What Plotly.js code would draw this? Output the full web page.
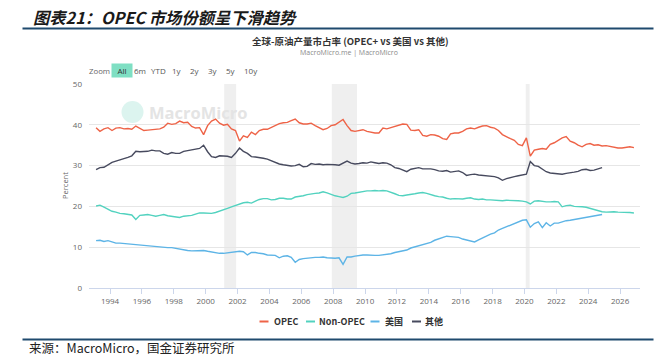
<!DOCTYPE html>
<html>
<head>
<meta charset="utf-8">
<script src="https://cdn.plot.ly/plotly-3.0.1.min.js"></script>
<style>
html,body{margin:0;padding:0;background:#ffffff;}
#chart{width:656px;height:358px;}
</style>
</head>
<body>
<div id="chart"></div>
<script>
// ---------------- DATA (quarterly) ----------------
const seriesNames = ['OPEC', 'Non-OPEC', '美国', '其他'];
const firstYear = 1993;

// OPEC share (%), 1993Q1 – 2026Q4
const opec = [
  39.3, 38.4, 39.0, 39.3,  38.6, 39.2, 39.3, 39.0,  39.1, 38.9, 39.7, 39.1,  38.6, 38.7, 38.8, 39.0,
  39.0, 39.4, 40.4, 40.1,  40.3, 40.9, 40.5, 40.6,  39.6, 39.2, 39.3, 37.6,  39.8, 40.9, 41.4, 40.4,
  39.9, 40.1, 39.0, 38.6,  36.0, 37.3, 36.9, 38.2,  37.6, 38.6, 38.9, 38.9,  39.4, 39.8, 40.3, 40.5,
  40.6, 41.0, 41.4, 40.5,  40.2, 40.2, 40.4, 39.8,  39.2, 38.8, 39.1, 39.8,  40.0, 40.6, 41.3, 39.8,
  38.6, 38.4, 38.6, 38.8,  38.4, 38.2, 38.0, 38.0,  39.2, 39.0, 39.3, 39.6,  40.0, 40.2, 40.1, 38.7,
  38.6, 38.8, 37.4, 37.2,  37.6, 37.5, 37.2, 36.6,  36.4, 37.8, 38.0, 38.0,  38.4, 39.0, 39.2, 39.0,
  39.4, 39.7, 39.8, 39.4,  39.2, 38.6, 37.6, 37.0,  36.6, 36.2, 35.2, 34.9,  36.8, 32.3, 33.8, 34.0,
  34.2, 34.0, 35.2, 35.6,  36.2, 36.8, 37.1, 36.0,  35.6, 35.0, 34.6, 35.2,  35.4, 35.0, 35.1, 34.8,
  34.9, 34.7, 34.4, 34.3,  34.3, 34.5, 34.6, 34.4
];
// Non-OPEC share (%), 1993Q1 – 2026Q4
const nonOpec = [
  20.1, 20.3, 19.8, 19.3,  18.8, 18.6, 18.3, 18.2,  18.0, 17.9, 16.8, 17.8,  17.9, 18.0, 17.8, 17.6,
  17.8, 18.0, 17.7, 17.6,  17.4, 17.3, 17.6, 17.7,  17.8, 18.1, 18.4, 18.4,  18.4, 18.3, 18.5, 18.8,
  19.1, 19.5, 19.9, 20.3,  20.6, 20.9, 21.0, 20.8,  21.3, 21.7, 21.9, 21.9,  21.6, 21.7, 22.0, 22.0,
  21.8, 21.8, 22.3, 22.4,  22.6, 22.9, 23.1, 23.2,  23.3, 23.6, 23.3, 22.9,  22.6, 22.4, 22.2, 22.5,
  23.2, 23.3, 23.5, 23.7,  23.8, 23.8, 23.9, 23.8,  23.9, 23.8, 23.5, 23.1,  22.7, 22.6, 22.8, 22.9,
  23.1, 23.3, 23.4, 23.2,  22.8, 22.6, 22.4, 22.3,  22.0, 21.8, 21.9, 21.9,  21.8, 22.0, 22.1, 21.8,
  21.7, 21.8, 21.6, 21.6,  21.5, 21.4, 21.4, 21.5,  21.5, 21.5, 21.4, 21.3,  21.1, 20.6, 21.3, 21.4,
  21.2, 21.1, 21.1, 21.2,  21.1, 19.9, 20.2, 20.3,  20.0, 20.0, 19.9, 19.8,  19.5, 19.2, 19.0, 18.7,
  18.6, 18.7, 18.7, 18.6,  18.6, 18.6, 18.5, 18.4
];
// United States share (%), 1993Q1 – 2024Q4
const usa = [
  11.6, 11.7, 11.4, 11.6,  11.3, 11.0, 11.0, 10.9,  10.9, 10.8, 10.7, 10.5,  10.5, 10.4, 10.3, 10.2,
  10.1, 10.0,  9.9,  9.9,   9.7,  9.5,  9.3,  9.2,   9.1,  9.1,  9.2,  9.2,   9.0,  8.8,  8.6,  8.5,
   8.5,  8.6,  8.8,  8.9,   9.0,  8.9,  8.1,  8.7,   8.7,  8.5,  8.4,  8.1,   8.0,  8.0,  7.4,  7.8,
   7.9,  7.5,  6.3,  7.0,   7.2,  7.3,  7.5,  7.5,   7.5,  7.6,  7.4,  7.3,   7.3,  7.4,  5.8,  7.6,
   7.6,  7.8,  8.0,  8.1,   8.1,  8.0,  8.0,  8.0,   8.1,  8.3,  8.4,  8.7,   8.9,  9.1,  9.3,  9.8,
  10.1, 10.4, 10.7, 11.0,  11.2, 11.7, 12.0, 12.4,  12.7, 12.6, 12.5, 12.4,  12.0, 11.8, 11.5, 11.3,
  11.8, 12.3, 12.7, 13.2,  13.5, 14.2, 14.6, 15.0,  15.4, 15.8, 16.3, 16.6,  16.7, 14.9, 15.8, 16.2,
  14.8, 16.0, 15.2, 15.9,  15.9, 16.2, 16.5, 16.6,  16.8, 16.9, 17.1, 17.3,  17.4, 17.6, 17.8, 18.0
];
// Others share (%), 1993Q1 – 2024Q4
const others = [
  29.0, 29.5, 29.6, 30.3,  30.8, 31.1, 31.4, 31.6,  32.0, 32.4, 33.5, 33.4,  33.4, 33.5, 33.8, 33.6,
  33.6, 33.0, 32.8, 33.2,  33.0, 33.0, 33.5, 33.7,  33.9, 34.0, 34.2, 35.0,  33.4, 32.2, 32.0, 32.4,
  32.4, 32.3, 32.0, 33.0,  34.3, 33.5, 33.0, 32.2,  32.1, 32.0, 31.8, 31.6,  31.2, 30.7, 30.4, 30.2,
  30.1, 29.9, 30.0, 30.3,  29.7, 29.8, 30.5, 30.3,  30.4, 30.2, 30.3, 30.3,  30.2, 30.1, 30.6, 31.1,
  30.6, 30.4, 30.5, 30.7,  30.6, 30.9, 30.7, 30.5,  30.7, 30.6, 30.2, 29.5,  29.3, 28.9, 28.5, 29.1,
  29.4, 29.5, 29.2, 29.2,  29.2, 29.0, 28.7, 28.6,  28.8, 28.4, 28.6, 28.7,  28.3, 27.6, 27.8, 27.9,
  27.7, 27.6, 27.6, 27.5,  27.3, 27.0, 26.4, 26.8,  27.1, 27.3, 27.5, 27.7,  27.9, 31.0, 30.0, 29.8,
  29.2, 28.5, 28.2, 28.1,  28.0, 27.9, 28.1, 28.2,  28.4, 28.6, 29.0, 29.1,  28.8, 28.9, 29.2, 29.5
];

// US recessions (shaded bands)
const recessionStart = ['2001-03-01', '2007-12-01', '2020-02-01'];
const recessionEnd   = ['2001-11-30', '2009-06-30', '2020-04-30'];

const yTicks = [0, 10, 20, 30, 40, 50];
const rangeButtons = ['All', '6m', 'YTD', '1y', '2y', '3y', '5y', '10y'];

const seriesColors = ['#ee6347', '#52d2bf', '#5db4e6', '#474a5e'];

// ---------------- helpers ----------------
function quarterDates(n) {
  const months = ['02', '05', '08', '11'];
  const out = [];
  for (let i = 0; i < n; i++) {
    out.push((firstYear + Math.floor(i / 4)) + '-' + months[i % 4] + '-15');
  }
  return out;
}
// layout geometry (pixels -> paper)
const W = 656, H = 358, L = 89, R = 16, T = 84, B = 70;
const PW = W - L - R, PH = H - T - B;
const px = x => (x - L) / PW;
const py = y => (H - B - y) / PH;

const FONT = '"Open Sans", "Noto Sans CJK SC", "DejaVu Sans", sans-serif';
const CJK = '"Noto Sans CJK SC", "Open Sans", sans-serif';

const allSeries = [opec, nonOpec, usa, others];
const traces = allSeries.map((vals, i) => ({
  type: 'scatter',
  mode: 'lines',
  name: seriesNames[i],
  x: quarterDates(vals.length),
  y: vals,
  line: { color: seriesColors[i], width: 1.4 },
  hoverinfo: 'skip',
  showlegend: false
}));

const shapes = [];
for (let i = 0; i < recessionStart.length; i++) {
  shapes.push({
    type: 'rect', xref: 'x', yref: 'paper',
    x0: recessionStart[i], x1: recessionEnd[i], y0: 0, y1: 1,
    fillcolor: '#efefef', line: { width: 0 }, layer: 'below'
  });
}
// watermark logo circle
shapes.push({ type: 'circle', xref: 'paper', yref: 'paper', x0: px(121.5), x1: px(143.5), y0: py(123), y1: py(101),
  fillcolor: '#dcf4ef', line: { width: 0 }, layer: 'below' });

const annotations = [];
// header/footer rules (thin filled bars)
[28, 339.5].forEach(yy => {
  annotations.push({ xref: 'paper', yref: 'paper', x: px(22), y: py(yy), xanchor: 'left', yanchor: 'middle',
    text: ' ', showarrow: false, width: 630, height: 1, borderpad: 0, bgcolor: '#1f4a6e',
    font: { size: 1, color: '#1f4a6e' } });
});
// header
annotations.push({ xref: 'paper', yref: 'paper', x: px(31), y: py(16.5), xanchor: 'left', yanchor: 'middle',
  text: '<b><i>图表21：OPEC 市场份额呈下滑趋势</i></b>', showarrow: false,
  font: { family: CJK, size: 16.3, color: '#1a1a1a' } });
// chart title & subtitle
annotations.push({ xref: 'paper', yref: 'paper', x: px(350), y: py(40.5), xanchor: 'center', yanchor: 'middle',
  text: '<b>全球-原油产量市占率 (OPEC+ vs 美国 vs 其他)</b>', showarrow: false,
  font: { family: CJK, size: 9.5, color: '#333333' } });
annotations.push({ xref: 'paper', yref: 'paper', x: px(349), y: py(52.5), xanchor: 'center', yanchor: 'middle',
  text: 'MacroMicro.me | MacroMicro', showarrow: false,
  font: { family: FONT, size: 7, color: '#8a8a8a' } });
// range selector
annotations.push({ xref: 'paper', yref: 'paper', x: px(87), y: py(70.5), xanchor: 'left', yanchor: 'middle',
  text: 'Zoom', showarrow: false, font: { family: FONT, size: 7.8, color: '#666666' } });
const btnX = [121.5, 139.5, 158, 176.5, 194.5, 213, 231, 250.5];
rangeButtons.forEach((b, i) => {
  const a = { xref: 'paper', yref: 'paper', x: px(btnX[i]), y: py(70.5), xanchor: 'center', yanchor: 'middle',
    text: b, showarrow: false, font: { family: FONT, size: 8, color: '#555555' } };
  if (i === 0) { a.bgcolor = '#7fdfc3'; a.width = 18; a.height = 11; a.font.color = '#333333'; }
  annotations.push(a);
});
// watermark text
annotations.push({ xref: 'paper', yref: 'paper', x: px(147), y: py(112.5), xanchor: 'left', yanchor: 'middle',
  text: '<b>MacroMicro</b>', showarrow: false, font: { family: FONT, size: 16.5, color: '#e4e4e4' } });
// y axis title
annotations.push({ xref: 'paper', yref: 'paper', x: px(65), y: py(186), xanchor: 'center', yanchor: 'middle',
  text: 'Percent', textangle: -90, showarrow: false, font: { family: FONT, size: 7.5, color: '#666666' } });
// custom legend
const legLineX = [259.5, 306, 370.5, 412];
const legTextX = [272, 317, 383, 423];
seriesNames.forEach((n, i) => {
  shapes.push({ type: 'line', xref: 'paper', yref: 'paper', x0: px(legLineX[i]), x1: px(legLineX[i] + 9),
    y0: py(321.5), y1: py(321.5), line: { color: seriesColors[i], width: 2 } });
  annotations.push({ xref: 'paper', yref: 'paper', x: px(legTextX[i]), y: py(321.5), xanchor: 'left', yanchor: 'middle',
    text: '<b>' + n + '</b>', showarrow: false, font: { family: CJK, size: 9, color: '#333333' } });
});
// source
annotations.push({ xref: 'paper', yref: 'paper', x: px(27), y: py(347.5), xanchor: 'left', yanchor: 'middle',
  text: '来源：MacroMicro，国金证券研究所', showarrow: false,
  font: { family: CJK, size: 12.5, color: '#222222' } });

const layout = {
  width: W, height: H,
  margin: { l: L, r: R, t: T, b: B, pad: 0 },
  paper_bgcolor: '#ffffff', plot_bgcolor: '#ffffff',
  font: { family: FONT, size: 8, color: '#666666' },
  showlegend: false,
  xaxis: {
    type: 'date',
    range: ['1992-09-06', '2027-04-03'],
    tick0: '1994-01-01', dtick: 'M24', tickformat: '%Y',
    showgrid: false, zeroline: false,
    showline: true, linecolor: '#ccd6eb', linewidth: 1,
    ticks: 'outside', ticklen: 5, tickcolor: '#ccd6eb', tickwidth: 1,
    tickfont: { family: FONT, size: 8, color: '#666666' },
    fixedrange: true
  },
  yaxis: {
    range: [0, 50],
    tickvals: yTicks,
    showgrid: true, gridcolor: '#e6e6e6', gridwidth: 1,
    zeroline: false, showline: false, ticks: '',
    ticklabelstandoff: 6,
    tickfont: { family: FONT, size: 8, color: '#666666' },
    fixedrange: true
  },
  shapes: shapes,
  annotations: annotations
};

Plotly.newPlot('chart', traces, layout, { displayModeBar: false, staticPlot: true });
</script>
</body>
</html>
